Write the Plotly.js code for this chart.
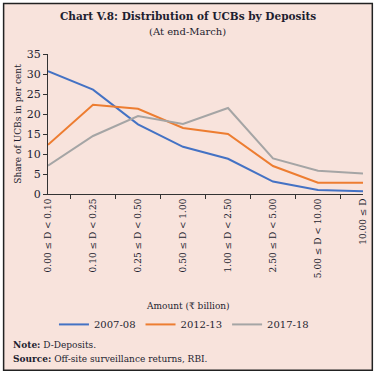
<!DOCTYPE html>
<html><head><meta charset="utf-8">
<script src="https://cdn.plot.ly/plotly-3.0.1.min.js"></script>
<style>html,body{margin:0;padding:0;background:#fff;}#chart{width:377px;height:376px;}</style>
</head><body><div id="chart"></div>
<script>
const categories = ["0.00 ≤ D < 0.10","0.10 ≤ D < 0.25","0.25 ≤ D < 0.50","0.50 ≤ D < 1.00","1.00 ≤ D < 2.50","2.50 ≤ D < 5.00","5.00 ≤ D < 10.00","10.00 ≤ D"];
const s2007 = [30.7, 26.1, 17.4, 11.8, 8.8, 3.1, 1.0, 0.7];
const s2012 = [12.3, 22.3, 21.3, 16.5, 15.0, 7.0, 2.8, 2.8];
const s2017 = [7.1, 14.5, 19.5, 17.5, 21.5, 8.9, 5.8, 5.1];
const seriesNames = ["2007-08","2012-13","2017-18"];
const colors = ["#4472C4","#ED7D31","#A5A5A5"];
const yTicks = [0,5,10,15,20,25,30,35];

const W=377,H=376;
const L=48.3,R=362.7,T=54,B=194.3;
const pw=R-L, ph=B-T;
const px = x => (x-L)/pw;
const py = y => (B-y)/ph;
const serif = "DejaVu Serif, serif";
const txt = "#1e1e30";

const data = [s2007,s2012,s2017].map((s,i)=>({
  x: categories, y: s, type:"scatter", mode:"lines", name: seriesNames[i],
  line:{color:colors[i], width:2}
}));

const layout = {
  width:W, height:H,
  margin:{l:L, r:W-R, t:T, b:H-B},
  paper_bgcolor:"rgba(0,0,0,0)", plot_bgcolor:"rgba(0,0,0,0)",
  font:{family:serif, color:txt, size:10},
  showlegend:true,
  legend:{orientation:"h", x:px(184), xanchor:"center", y:py(325), yanchor:"middle",
          font:{family:serif,size:10,color:txt}, bgcolor:"rgba(0,0,0,0)", traceorder:"normal"},
  xaxis:{type:"category", showline:true, linecolor:"#333", linewidth:1, ticks:"outside",
         tickson:"boundaries", ticklen:4, tickcolor:"#333", tickangle:-90,
         tickfont:{family:serif,size:9,color:txt}, showgrid:false, zeroline:false},
  yaxis:{range:[0,35], tickvals:yTicks, showline:true, linecolor:"#333", linewidth:1, ticks:"outside",
         ticklen:4, tickcolor:"#333", tickfont:{family:serif,size:11,color:txt}, showgrid:false, zeroline:false,
         title:{text:"Share of UCBs in per cent", font:{family:serif,size:9,color:txt}, standoff:3}},
  shapes:[
    {type:"rect", xref:"paper", yref:"paper", x0:px(4), x1:px(372), y0:py(371), y1:py(3.5),
     fillcolor:"#F8E3DC", line:{color:"#222", width:1.5}, layer:"below"}
  ],
  annotations:[
    {text:"<b>Chart V.8: Distribution of UCBs by Deposits</b>", xref:"paper", yref:"paper",
     x:px(188), y:py(16), xanchor:"center", yanchor:"middle", showarrow:false,
     font:{family:serif,size:10.5,color:txt}},
    {text:"(At end-March)", xref:"paper", yref:"paper",
     x:px(188), y:py(31), xanchor:"center", yanchor:"middle", showarrow:false,
     font:{family:serif,size:10,color:txt}},
    {text:"Amount (₹ billion)", xref:"paper", yref:"paper",
     x:px(188), y:py(307), xanchor:"center", yanchor:"middle", showarrow:false,
     font:{family:serif,size:9,color:txt}},
    {text:"<b>Note:</b> D-Deposits.", xref:"paper", yref:"paper",
     x:px(11), y:py(346), xanchor:"left", yanchor:"middle", showarrow:false,
     font:{family:serif,size:9,color:txt}},
    {text:"<b>Source:</b> Off-site surveillance returns, RBI.", xref:"paper", yref:"paper",
     x:px(11), y:py(360), xanchor:"left", yanchor:"middle", showarrow:false,
     font:{family:serif,size:9,color:txt}}
  ]
};
Plotly.newPlot("chart", data, layout, {displayModeBar:false, staticPlot:true});
</script></body></html>
